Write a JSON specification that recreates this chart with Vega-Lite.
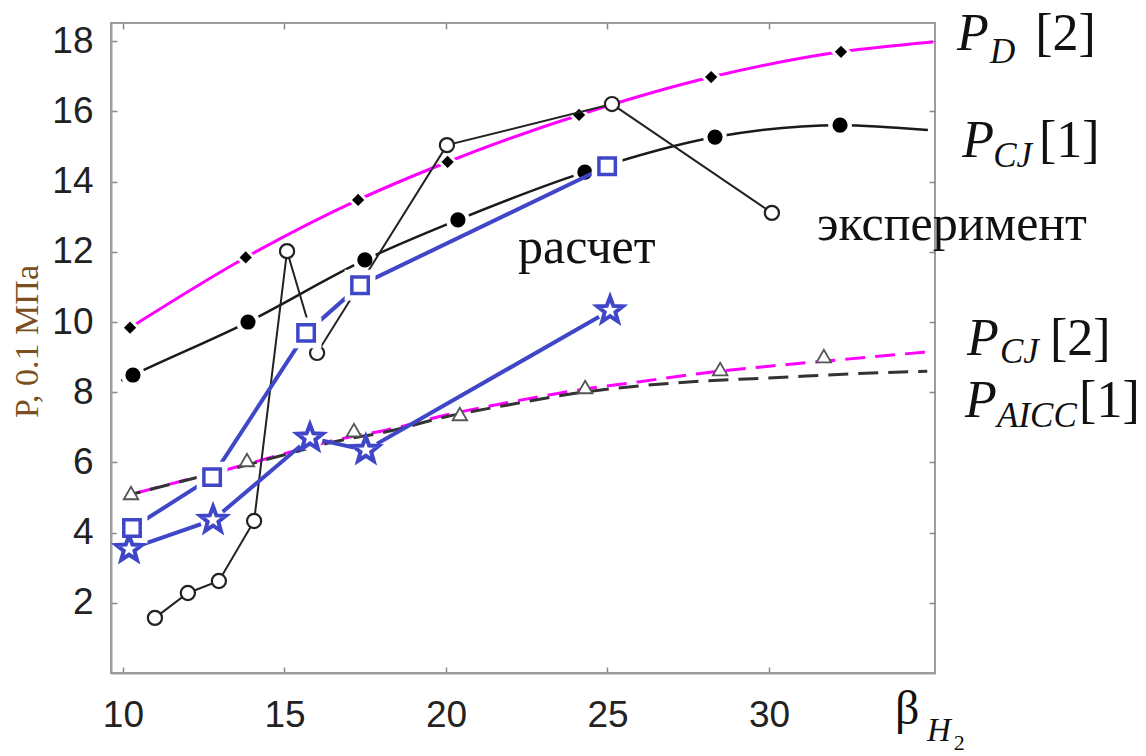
{
  "$schema": "https://vega.github.io/schema/vega-lite/v6.json",
  "width": 824,
  "height": 650,
  "autosize": {"type": "none"},
  "padding": {"left": 111, "top": 23, "right": 211, "bottom": 83},
  "background": "white",
  "config": {"view": {"stroke": "#9c9c9c", "strokeWidth": 2}, "axis": {"grid": false}},
  "datasets": {
    "pcj2": [
      {"x": 10.5, "y": 5.15}, {"x": 12.2, "y": 5.56}, {"x": 13.4, "y": 5.84}, {"x": 15.0, "y": 6.25},
      {"x": 16.5, "y": 6.62}, {"x": 18.3, "y": 6.95}, {"x": 20.0, "y": 7.35}, {"x": 22.0, "y": 7.72},
      {"x": 24.0, "y": 8.05}, {"x": 26.0, "y": 8.3}, {"x": 28.0, "y": 8.55}, {"x": 30.0, "y": 8.74},
      {"x": 32.5, "y": 8.95}, {"x": 34.9, "y": 9.15}
    ],
    "paicc": [
      {"x": 10.3, "y": 5.1}, {"x": 12.2, "y": 5.55}, {"x": 13.4, "y": 5.82}, {"x": 15.0, "y": 6.22},
      {"x": 16.5, "y": 6.58}, {"x": 18.3, "y": 6.9}, {"x": 20.0, "y": 7.3}, {"x": 22.0, "y": 7.65},
      {"x": 24.0, "y": 7.97}, {"x": 26.0, "y": 8.18}, {"x": 28.0, "y": 8.32}, {"x": 30.3, "y": 8.42},
      {"x": 32.5, "y": 8.52}, {"x": 34.9, "y": 8.6}
    ],
    "tri": [
      {"x": 10.25, "y": 5.13}, {"x": 13.84, "y": 6.07}, {"x": 17.15, "y": 6.92}, {"x": 20.43, "y": 7.38},
      {"x": 24.31, "y": 8.15}, {"x": 28.49, "y": 8.66}, {"x": 31.7, "y": 9.03}
    ],
    "pd_curve": [
      {"x": 10.22, "y": 9.84}, {"x": 13.8, "y": 11.84}, {"x": 17.28, "y": 13.48}, {"x": 20.05, "y": 14.56},
      {"x": 24.12, "y": 15.9}, {"x": 28.21, "y": 16.98}, {"x": 32.23, "y": 17.7}, {"x": 35.08, "y": 17.98}
    ],
    "pd_pts": [
      {"x": 10.22, "y": 9.84}, {"x": 13.8, "y": 11.84}, {"x": 17.28, "y": 13.48}, {"x": 20.05, "y": 14.56},
      {"x": 24.12, "y": 15.9}, {"x": 28.21, "y": 16.98}, {"x": 32.23, "y": 17.7}
    ],
    "pcj1_curve": [
      {"x": 9.95, "y": 8.33}, {"x": 10.31, "y": 8.49}, {"x": 13.87, "y": 10.0}, {"x": 17.49, "y": 11.77},
      {"x": 20.37, "y": 12.91}, {"x": 24.3, "y": 14.27}, {"x": 28.33, "y": 15.27}, {"x": 32.2, "y": 15.61},
      {"x": 34.92, "y": 15.47}
    ],
    "pcj1_pts": [
      {"x": 10.31, "y": 8.49}, {"x": 13.87, "y": 10.0}, {"x": 17.49, "y": 11.77}, {"x": 20.37, "y": 12.91},
      {"x": 24.3, "y": 14.27}, {"x": 28.33, "y": 15.27}, {"x": 32.2, "y": 15.61}
    ],
    "exp": [
      {"x": 10.99, "y": 1.57}, {"x": 12.01, "y": 2.28}, {"x": 12.97, "y": 2.62}, {"x": 14.06, "y": 4.33},
      {"x": 15.08, "y": 12.02}, {"x": 16.01, "y": 9.12}, {"x": 20.03, "y": 15.04}, {"x": 25.14, "y": 16.21},
      {"x": 30.09, "y": 13.11}
    ],
    "sq": [
      {"x": 10.28, "y": 4.13}, {"x": 12.76, "y": 5.58}, {"x": 15.67, "y": 9.69}, {"x": 17.34, "y": 11.05},
      {"x": 24.99, "y": 14.44}
    ],
    "star": [
      {"x": 10.19, "y": 3.53}, {"x": 12.79, "y": 4.36}, {"x": 15.79, "y": 6.7}, {"x": 17.52, "y": 6.35},
      {"x": 25.08, "y": 10.33}
    ],
    "lab_p": [
      {"t": "P", "x": 35.82, "y": 17.75}, {"t": "P", "x": 35.98, "y": 14.7},
      {"t": "P", "x": 36.13, "y": 9.06}, {"t": "P", "x": 36.07, "y": 7.29}
    ],
    "lab_sub": [
      {"t": "D", "x": 36.84, "y": 17.38}, {"t": "CJ", "x": 36.94, "y": 14.42},
      {"t": "CJ", "x": 37.15, "y": 8.83}, {"t": "AICC", "x": 37.06, "y": 7.01}
    ],
    "lab_ref": [
      {"t": "[2]", "x": 38.24, "y": 17.75}, {"t": "[1]", "x": 38.36, "y": 14.7},
      {"t": "[2]", "x": 38.7, "y": 9.06}, {"t": "[1]", "x": 39.6, "y": 7.29}
    ],
    "words": [
      {"t": "эксперимент", "x": 31.49, "y": 12.34}, {"t": "расчет", "x": 22.23, "y": 11.68}
    ],
    "beta": [{"t": "β", "x": 33.9, "y": -1.45}],
    "beta_h": [{"t": "H", "x": 34.89, "y": -1.94}],
    "beta_2": [{"t": "2", "x": 35.72, "y": -2.2}]
  },
  "encoding": {
    "x": {"field": "x", "type": "quantitative", "scale": {"domain": [9.63, 35.14], "nice": false, "zero": false}, "axis": null},
    "y": {"field": "y", "type": "quantitative", "scale": {"domain": [0, 18.52], "nice": false, "zero": false}, "axis": null}
  },
  "resolve": {"axis": {"x": "independent", "y": "independent"}},
  "layer": [
    {
      "data": {"name": "pcj2"},
      "mark": {"type": "line", "color": "#ff00ff", "strokeWidth": 3, "strokeDash": [20, 10], "interpolate": "monotone"},
      "encoding": {
        "x": {"field": "x", "type": "quantitative", "scale": {"domain": [9.63, 35.14], "nice": false, "zero": false},
          "axis": {"orient": "bottom", "values": [10, 15, 20, 25, 30], "title": null, "labelFont": "Liberation Sans", "labelFontSize": 37, "labelColor": "#222", "tickSize": -6, "tickColor": "#888", "tickWidth": 1.5, "domainColor": "#9c9c9c", "domainWidth": 2, "labelPadding": 30}},
        "y": {"field": "y", "type": "quantitative", "scale": {"domain": [0, 18.52], "nice": false, "zero": false},
          "axis": {"orient": "left", "values": [2, 4, 6, 8, 10, 12, 14, 16, 18], "title": "P, 0.1 МПа", "titleFont": "Liberation Serif", "titleFontSize": 34, "titleFontWeight": "normal", "titleColor": "#7a4f22", "titleX": -84, "titleY": 318, "titleAngle": -90, "titleBaseline": "middle", "titleAlign": "center", "labelFont": "Liberation Sans", "labelFontSize": 37, "labelColor": "#222", "tickSize": -6, "tickColor": "#888", "tickWidth": 1.5, "domainColor": "#9c9c9c", "domainWidth": 2, "labelPadding": 24}}
      }
    },
    {
      "data": {"name": "paicc"},
      "mark": {"type": "line", "color": "#333333", "strokeWidth": 3, "strokeDash": [20, 10], "strokeDashOffset": 12, "interpolate": "monotone"},
      "encoding": {
        "x": {"field": "x", "type": "quantitative", "scale": {"domain": [9.63, 35.14], "nice": false, "zero": false},
          "axis": {"orient": "top", "values": [10, 15, 20, 25, 30], "title": null, "labels": false, "tickSize": -6, "tickColor": "#888", "tickWidth": 1.5, "domain": false}},
        "y": {"field": "y", "type": "quantitative", "scale": {"domain": [0, 18.52], "nice": false, "zero": false},
          "axis": {"orient": "right", "values": [2, 4, 6, 8, 10, 12, 14, 16, 18], "title": null, "labels": false, "tickSize": -6, "tickColor": "#888", "tickWidth": 1.5, "domain": false}}
      }
    },
    {
      "data": {"name": "tri"},
      "mark": {"type": "point", "shape": "triangle-up", "size": 210, "filled": true, "fill": "white", "stroke": "#555555", "strokeWidth": 1.8, "opacity": 1}
    },
    {
      "data": {"name": "pd_curve"},
      "mark": {"type": "line", "color": "#ff00ff", "strokeWidth": 3, "interpolate": "monotone"}
    },
    {
      "data": {"name": "pd_pts"},
      "mark": {"type": "point", "shape": "diamond", "size": 420, "filled": true, "color": "white", "opacity": 1}
    },
    {
      "data": {"name": "pd_pts"},
      "mark": {"type": "point", "shape": "diamond", "size": 150, "filled": true, "color": "#000000", "opacity": 1}
    },
    {
      "data": {"name": "pcj1_curve"},
      "mark": {"type": "line", "color": "#1a1a1a", "strokeWidth": 2.5, "interpolate": "monotone"}
    },
    {
      "data": {"name": "pcj1_pts"},
      "mark": {"type": "point", "shape": "circle", "size": 560, "filled": true, "color": "white", "opacity": 1}
    },
    {
      "data": {"name": "pcj1_pts"},
      "mark": {"type": "point", "shape": "circle", "size": 230, "filled": true, "color": "#000000", "opacity": 1}
    },
    {
      "data": {"name": "exp"},
      "mark": {"type": "line", "color": "#222222", "strokeWidth": 2}
    },
    {
      "data": {"name": "exp"},
      "mark": {"type": "point", "shape": "circle", "size": 200, "filled": true, "fill": "white", "stroke": "#222222", "strokeWidth": 2.2, "opacity": 1}
    },
    {
      "data": {"name": "sq"},
      "mark": {"type": "line", "color": "#3f47c8", "strokeWidth": 4}
    },
    {
      "data": {"name": "star"},
      "mark": {"type": "line", "color": "#3f47c8", "strokeWidth": 4}
    },
    {
      "data": {"name": "star"},
      "mark": {"type": "point", "shape": "circle", "size": 650, "filled": true, "color": "white", "opacity": 1}
    },
    {
      "data": {"name": "sq"},
      "mark": {"type": "point", "shape": "square", "size": 950, "filled": true, "color": "white", "opacity": 1}
    },
    {
      "data": {"name": "star"},
      "mark": {"type": "point", "shape": "M0,-1L0.247,-0.34L0.951,-0.309L0.399,0.13L0.588,0.809L0,0.42L-0.588,0.809L-0.399,0.13L-0.951,-0.309L-0.247,-0.34Z", "size": 720, "filled": true, "fill": "white", "stroke": "#3f47c8", "strokeWidth": 4, "opacity": 1}
    },
    {
      "data": {"name": "sq"},
      "mark": {"type": "point", "shape": "square", "size": 270, "filled": true, "fill": "white", "stroke": "#3f47c8", "strokeWidth": 3.5, "opacity": 1}
    },
    {
      "data": {"name": "lab_p"},
      "mark": {"type": "text", "font": "Liberation Serif", "fontSize": 52, "fontStyle": "italic", "align": "left", "baseline": "alphabetic", "color": "#111"},
      "encoding": {"text": {"field": "t"}}
    },
    {
      "data": {"name": "lab_sub"},
      "mark": {"type": "text", "font": "Liberation Serif", "fontSize": 35, "fontStyle": "italic", "align": "left", "baseline": "alphabetic", "color": "#111"},
      "encoding": {"text": {"field": "t"}}
    },
    {
      "data": {"name": "lab_ref"},
      "mark": {"type": "text", "font": "Liberation Serif", "fontSize": 52, "align": "left", "baseline": "alphabetic", "color": "#111"},
      "encoding": {"text": {"field": "t"}}
    },
    {
      "data": {"name": "words"},
      "mark": {"type": "text", "font": "Liberation Serif", "fontSize": 50, "align": "left", "baseline": "alphabetic", "color": "#111"},
      "encoding": {"text": {"field": "t"}}
    },
    {
      "data": {"name": "beta"},
      "mark": {"type": "text", "font": "Liberation Serif", "fontSize": 48, "align": "left", "baseline": "alphabetic", "color": "#111"},
      "encoding": {"text": {"field": "t"}}
    },
    {
      "data": {"name": "beta_h"},
      "mark": {"type": "text", "font": "Liberation Serif", "fontSize": 33, "fontStyle": "italic", "align": "left", "baseline": "alphabetic", "color": "#111"},
      "encoding": {"text": {"field": "t"}}
    },
    {
      "data": {"name": "beta_2"},
      "mark": {"type": "text", "font": "Liberation Serif", "fontSize": 22, "align": "left", "baseline": "alphabetic", "color": "#111"},
      "encoding": {"text": {"field": "t"}}
    }
  ]
}
